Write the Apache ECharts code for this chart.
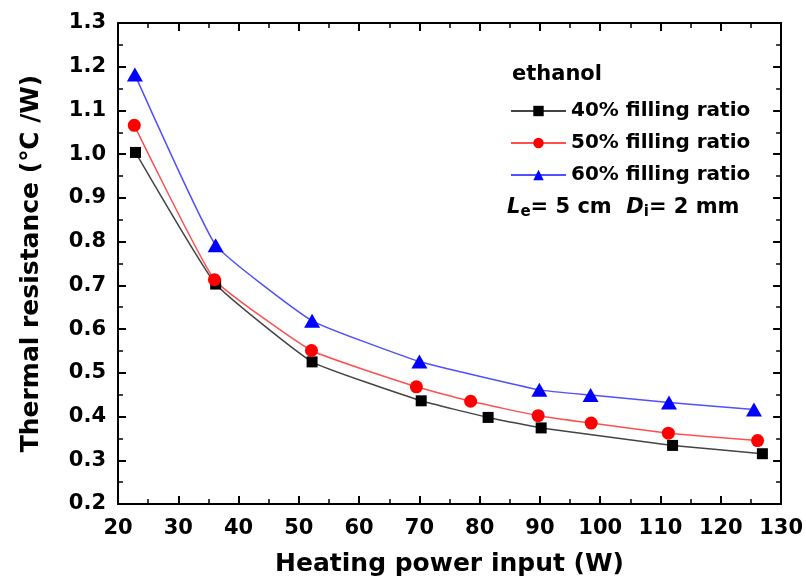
<!DOCTYPE html>
<html><head><meta charset="utf-8">
<script src="https://cdn.jsdelivr.net/npm/echarts@6/dist/echarts.min.js"></script>
<style>html,body{margin:0;padding:0;background:#fff}#c{width:806px;height:585px}</style>
</head><body><div id="c"></div>
<script>
const seriesNames = ['40% filling ratio', '50% filling ratio', '60% filling ratio'];
const power40 = [22.9, 36.2, 52.2, 70.3, 81.4, 90.2, 112.0, 126.9];
const res40   = [1.004, 0.703, 0.525, 0.436, 0.398, 0.374, 0.334, 0.315];
const power50 = [22.7, 36.0, 52.1, 69.5, 78.5, 89.7, 98.5, 111.3, 126.1];
const res50   = [1.066, 0.713, 0.551, 0.468, 0.435, 0.402, 0.385, 0.362, 0.345];
const power60 = [22.8, 36.2, 52.2, 70.0, 89.9, 98.4, 111.4, 125.5];
const res60   = [1.182, 0.792, 0.619, 0.526, 0.461, 0.449, 0.432, 0.416];
const xTitle = 'Heating power input (W)';
const yTitle = 'Thermal resistance (\u2103 /W)';
const legendTitle = 'ethanol';

const FONT = 'DejaVu Sans';
const zip = (a, b) => a.map((v, i) => [v, b[i]]);

function axisBase(pos, showLabel) {
  return {
    type: 'value', position: pos,
    axisLine: { show: true, onZero: false, lineStyle: { color: '#000', width: 2 } },
    axisTick: { show: true, inside: true, length: 8, lineStyle: { color: '#000', width: 2 } },
    minorTick: { show: true, splitNumber: 2, length: 5, lineStyle: { color: '#000', width: 1.5 } },
    splitLine: { show: false },
    axisLabel: { show: showLabel, fontFamily: FONT, fontWeight: 'bold', fontSize: 21, color: '#000', margin: 12 }
  };
}

const xBottom = Object.assign(axisBase('bottom', true), {
  min: 20, max: 130, interval: 10,
  name: xTitle, nameLocation: 'middle', nameGap: 48,
  nameTextStyle: { fontFamily: FONT, fontWeight: 'bold', fontSize: 25, color: '#000' }
});
xBottom.axisLabel.margin = 14;
const xTop = Object.assign(axisBase('top', false), { min: 20, max: 130, interval: 10 });
const yLeft = Object.assign(axisBase('left', true), {
  min: 0.2, max: 1.3, interval: 0.1,
  name: yTitle, nameLocation: 'middle', nameGap: 74,
  nameTextStyle: { fontFamily: FONT, fontWeight: 'bold', fontSize: 25, color: '#000' }
});
yLeft.axisLabel.formatter = v => v.toFixed(1);
const yRight = Object.assign(axisBase('right', false), { min: 0.2, max: 1.3, interval: 0.1 });

function mk(name, xs, ys, symbol, size, mcol, lcol) {
  return {
    type: 'line', name: name, xAxisIndex: 0, yAxisIndex: 0,
    data: zip(xs, ys), symbol: symbol, symbolSize: size, smooth: 0.12,
    itemStyle: { color: mcol }, lineStyle: { color: lcol, width: 1.5 },
    emphasis: { disabled: true }, z: 3
  };
}

const chart = echarts.init(document.getElementById('c'), null, { renderer: 'canvas' });
chart.setOption({
  animation: false,
  backgroundColor: '#fff',
  grid: { left: 118, right: 23, top: 23, bottom: 81, containLabel: false },
  xAxis: [xBottom, xTop],
  yAxis: [yLeft, yRight],
  legend: {
    orient: 'vertical', left: 505, top: 96,
    itemWidth: 55, itemHeight: 13, itemGap: 12,
    textStyle: { fontFamily: FONT, fontWeight: 'bold', fontSize: 20, color: '#000' },
    data: seriesNames
  },
  graphic: [
    { type: 'text', left: 512, top: 64, style: { text: legendTitle, font: 'bold 21px "DejaVu Sans"', fill: '#000' } },
    { type: 'text', left: 507, top: 197, style: {
      text: '{i|L}{s|e}{n|= 5 cm  }{i|D}{s|i}{n|= 2 mm}',
      rich: {
        i: { fontFamily: FONT, fontWeight: 'bold', fontStyle: 'italic', fontSize: 21, lineHeight: 22, verticalAlign: 'top', fill: '#000' },
        n: { fontFamily: FONT, fontWeight: 'bold', fontSize: 21, lineHeight: 22, verticalAlign: 'top', fill: '#000' },
        s: { fontFamily: FONT, fontWeight: 'bold', fontSize: 15, lineHeight: 22, verticalAlign: 'top', padding: [8, 0, 0, 0], fill: '#000' }
      }
    } }
  ],
  series: [
    mk(seriesNames[0], power40, res40, 'rect', 11, '#000', '#444'),
    mk(seriesNames[1], power50, res50, 'circle', 13, '#ff0000', '#ff5050'),
    mk(seriesNames[2], power60, res60, 'triangle', [16, 14], '#0000ff', '#5050ff')
  ]
});
</script></body></html>
